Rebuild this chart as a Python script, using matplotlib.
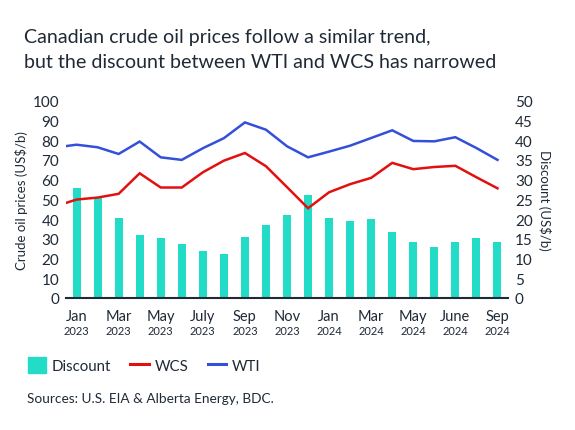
import matplotlib
matplotlib.use("Agg")
import matplotlib.pyplot as plt
from matplotlib.patches import Patch
from matplotlib.lines import Line2D

plt.rcParams['font.family'] = ['Lato', 'DejaVu Sans']

tick_months = ["Jan", "Mar", "May", "July", "Sep", "Nov", "Jan", "Mar", "May", "June", "Sep"]
tick_years = ["2023", "2023", "2023", "2023", "2023", "2023", "2024", "2024", "2024", "2024", "2024"]
# lines include a Dec 2022 point (clipped at the left edge)
wti = [76.3, 77.7, 76.4, 73.0, 79.3, 71.3, 70.0, 75.9, 81.0, 89.0, 85.3, 76.9, 71.3,
       74.2, 77.2, 81.1, 85.0, 79.6, 79.4, 81.5, 76.0, 70.0]
wcs = [46.5, 49.9, 50.9, 52.8, 63.2, 56.0, 56.0, 63.7, 69.6, 73.5, 66.8, 56.2, 45.5,
       53.6, 57.7, 60.9, 68.5, 65.3, 66.4, 67.0, 61.2, 55.6]
discount = [28.0, 25.4, 20.2, 15.9, 15.3, 13.7, 11.9, 11.2, 15.5, 18.4, 21.0, 26.2,
            20.3, 19.4, 19.9, 16.6, 14.3, 12.9, 14.3, 15.3, 14.3]

text_c = "#1f2a36"
teal = "#22dcc8"
red = "#e0110f"
blue = "#3550d8"

fig = plt.figure(figsize=(5.75, 4.31), dpi=100)
ax = fig.add_axes([66/575, 1 - 299/431, (508-66)/575, (299-101.7)/431])
ax2 = ax.twinx()

x = list(range(len(discount)))
xl = [i - 1 for i in range(len(wti))]

ax2.bar(x, discount, width=0.38, color=teal, zorder=1)
ax2.set_ylim(0, 50)
ax.set_ylim(0, 100)
ax.set_zorder(ax2.get_zorder() + 1)
ax.patch.set_visible(False)

ax.plot(xl, wcs, color=red, lw=1.8, solid_joinstyle='miter', zorder=3)
ax.plot(xl, wti, color=blue, lw=1.8, solid_joinstyle='miter', zorder=3)
ax.set_xlim(-0.5, 20.5)

for a in (ax, ax2):
    for s in ["top", "left", "right", "bottom"]:
        a.spines[s].set_visible(False)
ax.spines["bottom"].set_visible(True)
ax.spines["bottom"].set_color(text_c)
ax.spines["bottom"].set_linewidth(1.5)

ax.set_yticks(range(0, 101, 10))
ax2.set_yticks(range(0, 51, 5))
ax.tick_params(axis='y', length=0, labelsize=11, labelcolor=text_c, pad=5)
ax2.tick_params(axis='y', length=0, labelsize=11, labelcolor=text_c, pad=5)

ticks = x[::2]
ax.set_xticks(ticks)
ax.set_xticklabels([])
ax.tick_params(axis='x', length=0)
for i, m, y in zip(ticks, tick_months, tick_years):
    ax.text(i, -5.5, m, ha='center', va='top', fontsize=10.5, color=text_c, clip_on=False)
    ax.text(i, -13.5, y, ha='center', va='top', fontsize=8, color=text_c, clip_on=False)

ax.set_ylabel("Crude oil prices (US$/b)", fontsize=9.5, color=text_c, labelpad=3)
ax2.set_ylabel("Discount (US$/b)", fontsize=9.5, color=text_c, rotation=270,
               labelpad=13)

fig.text(24/575, 1 - 50/431, "Canadian crude oil prices follow a similar trend,\n"
         "but the discount between WTI and WCS has narrowed",
         fontsize=14.1, color=text_c, ha='left', va='center', linespacing=1.5)

handles = [Patch(color=teal), Line2D([], [], color=red, lw=2.2),
           Line2D([], [], color=blue, lw=2.2)]
fig.legend(handles, ["Discount", "WCS", "WTI"], loc='center left',
           bbox_to_anchor=(14/575, 1 - 366/431), ncol=3, frameon=False,
           fontsize=10.8, labelcolor=text_c, handlelength=1.25, handleheight=1.25,
           handletextpad=0.35, columnspacing=1.3)

fig.text(27/575, 1 - 399/431, "Sources: U.S. EIA & Alberta Energy, BDC.",
         fontsize=9.8, color=text_c, ha='left', va='center')

fig.savefig("out.png", dpi=100)
